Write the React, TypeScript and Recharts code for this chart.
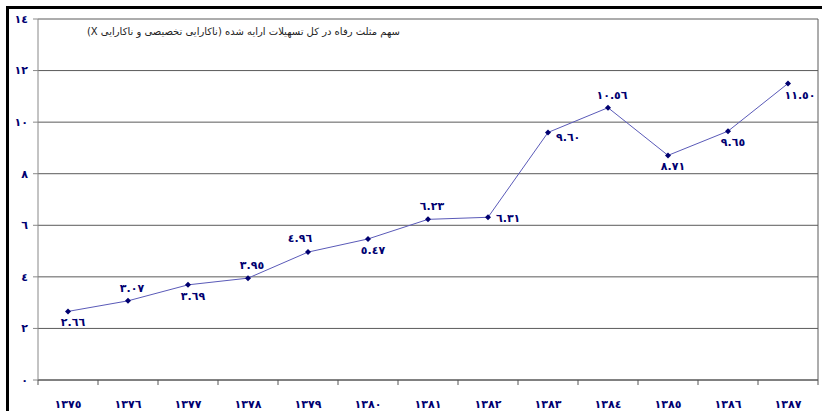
import { CartesianGrid, LabelList, Line, LineChart, XAxis, YAxis } from "recharts";

// سال‌ها و سهم مثلث رفاه
const YEARS = ["١٣٧٥", "١٣٧٦", "١٣٧٧", "١٣٧٨", "١٣٧٩", "١٣٨٠", "١٣٨١", "١٣٨٢", "١٣٨٣", "١٣٨٤", "١٣٨٥", "١٣٨٦", "١٣٨٧"];
const VALUES = [2.66, 3.07, 3.69, 3.95, 4.96, 5.47, 6.23, 6.31, 9.6, 10.56, 8.71, 9.65, 11.5];
const Y_TICKS = [0, 2, 4, 6, 8, 10, 12, 14];
const TITLE = "سهم مثلث رفاه در کل تسهیلات ارایه شده (ناکارایی تخصیصی و ناکارایی X)";

// where each value label sits relative to its point
const LABEL_SIDE = ["below", "above", "below", "above", "aboveLeft", "below", "above", "right", "right", "above", "below", "below", "belowRight"];

const data = YEARS.map((year, i) => ({ year, value: VALUES[i] }));

const NAVY = "#000070";
const FONT = "'DejaVu Sans', sans-serif";
const HALF_BAND = 30;

const toArabic = (s: string) => s.replace(/\d/g, (d) => "٠١٢٣٤٥٦٧٨٩"[Number(d)]);

function XTick({ x, y, payload, index }: any) {
  const last = index === YEARS.length - 1;
  return (
    <g>
      <line x1={x - HALF_BAND} x2={x - HALF_BAND} y1={y} y2={y + 5} stroke="#555" />
      {last && <line x1={x + HALF_BAND} x2={x + HALF_BAND} y1={y} y2={y + 5} stroke="#555" />}
      <text x={x} y={y + 28} textAnchor="middle" fill={NAVY} fontSize={11} fontWeight="bold" fontFamily={FONT}>
        {payload.value}
      </text>
    </g>
  );
}

function Diamond({ cx, cy }: any) {
  if (cx == null || cy == null) return null;
  const r = 3;
  return <polygon points={`${cx},${cy - r} ${cx + r},${cy} ${cx},${cy + r} ${cx - r},${cy}`} fill={NAVY} />;
}

function ValueLabel({ x, y, value, index }: any) {
  const side = LABEL_SIDE[index];
  let dx = 6;
  let dy = 0;
  let anchor: "start" | "middle" | "end" = "middle";
  if (side === "above") { dx = 4; dy = -9; }
  if (side === "aboveLeft") { dx = -8; dy = -10; }
  if (side === "below") { dx = 5; dy = 15; }
  if (side === "right") { dx = 8; dy = 5; anchor = "start"; }
  if (side === "belowRight") { dx = 12; dy = 16; }
  if (index === 8) dy = 9;
  return (
    <text x={x + dx} y={y + dy} textAnchor={anchor} fill={NAVY} fontSize={11} fontWeight="bold" fontFamily={FONT}>
      {toArabic(value.toFixed(2))}
    </text>
  );
}

export default function App() {
  return (
    <div style={{ position: "absolute", left: 0, top: 0, width: 822, height: 411, background: "#fff" }}>
      <div style={{ position: "absolute", left: 6, top: 6, right: 0, bottom: 0, borderLeft: "3px solid #000", borderTop: "3px solid #000" }} />
      <LineChart width={822} height={411} data={data} margin={{ top: 19, right: 4, bottom: 0, left: 8 }}>
        <CartesianGrid
          stroke="#5a5a5a"
          verticalCoordinatesGenerator={({ offset }: any) => [offset.left + offset.width]}
        />
        <XAxis
          dataKey="year"
          height={31}
          padding={{ left: HALF_BAND, right: HALF_BAND }}
          interval={0}
          tickLine={false}
          tickSize={0}
          tickMargin={0}
          stroke="#555"
          tick={<XTick />}
        />
        <YAxis
          width={30}
          domain={[0, 14]}
          ticks={Y_TICKS}
          interval={0}
          stroke="#888"
          tickSize={5}
          tickMargin={5}
          tickFormatter={(v: number) => toArabic(String(v))}
          tick={{ fill: NAVY, fontSize: 11, fontWeight: "bold", fontFamily: FONT }}
        />
        <Line
          dataKey="value"
          stroke="#5a5ab8"
          strokeWidth={1}
          dot={<Diamond />}
          activeDot={false}
          isAnimationActive={false}
        >
          <LabelList dataKey="value" content={<ValueLabel />} />
        </Line>
      </LineChart>
      <div
        style={{
          position: "absolute",
          left: 0,
          width: 400,
          top: 26,
          textAlign: "right",
          direction: "rtl",
          fontFamily: FONT,
          fontSize: 10,
          color: "#222",
        }}
      >
        {TITLE}
      </div>
    </div>
  );
}
